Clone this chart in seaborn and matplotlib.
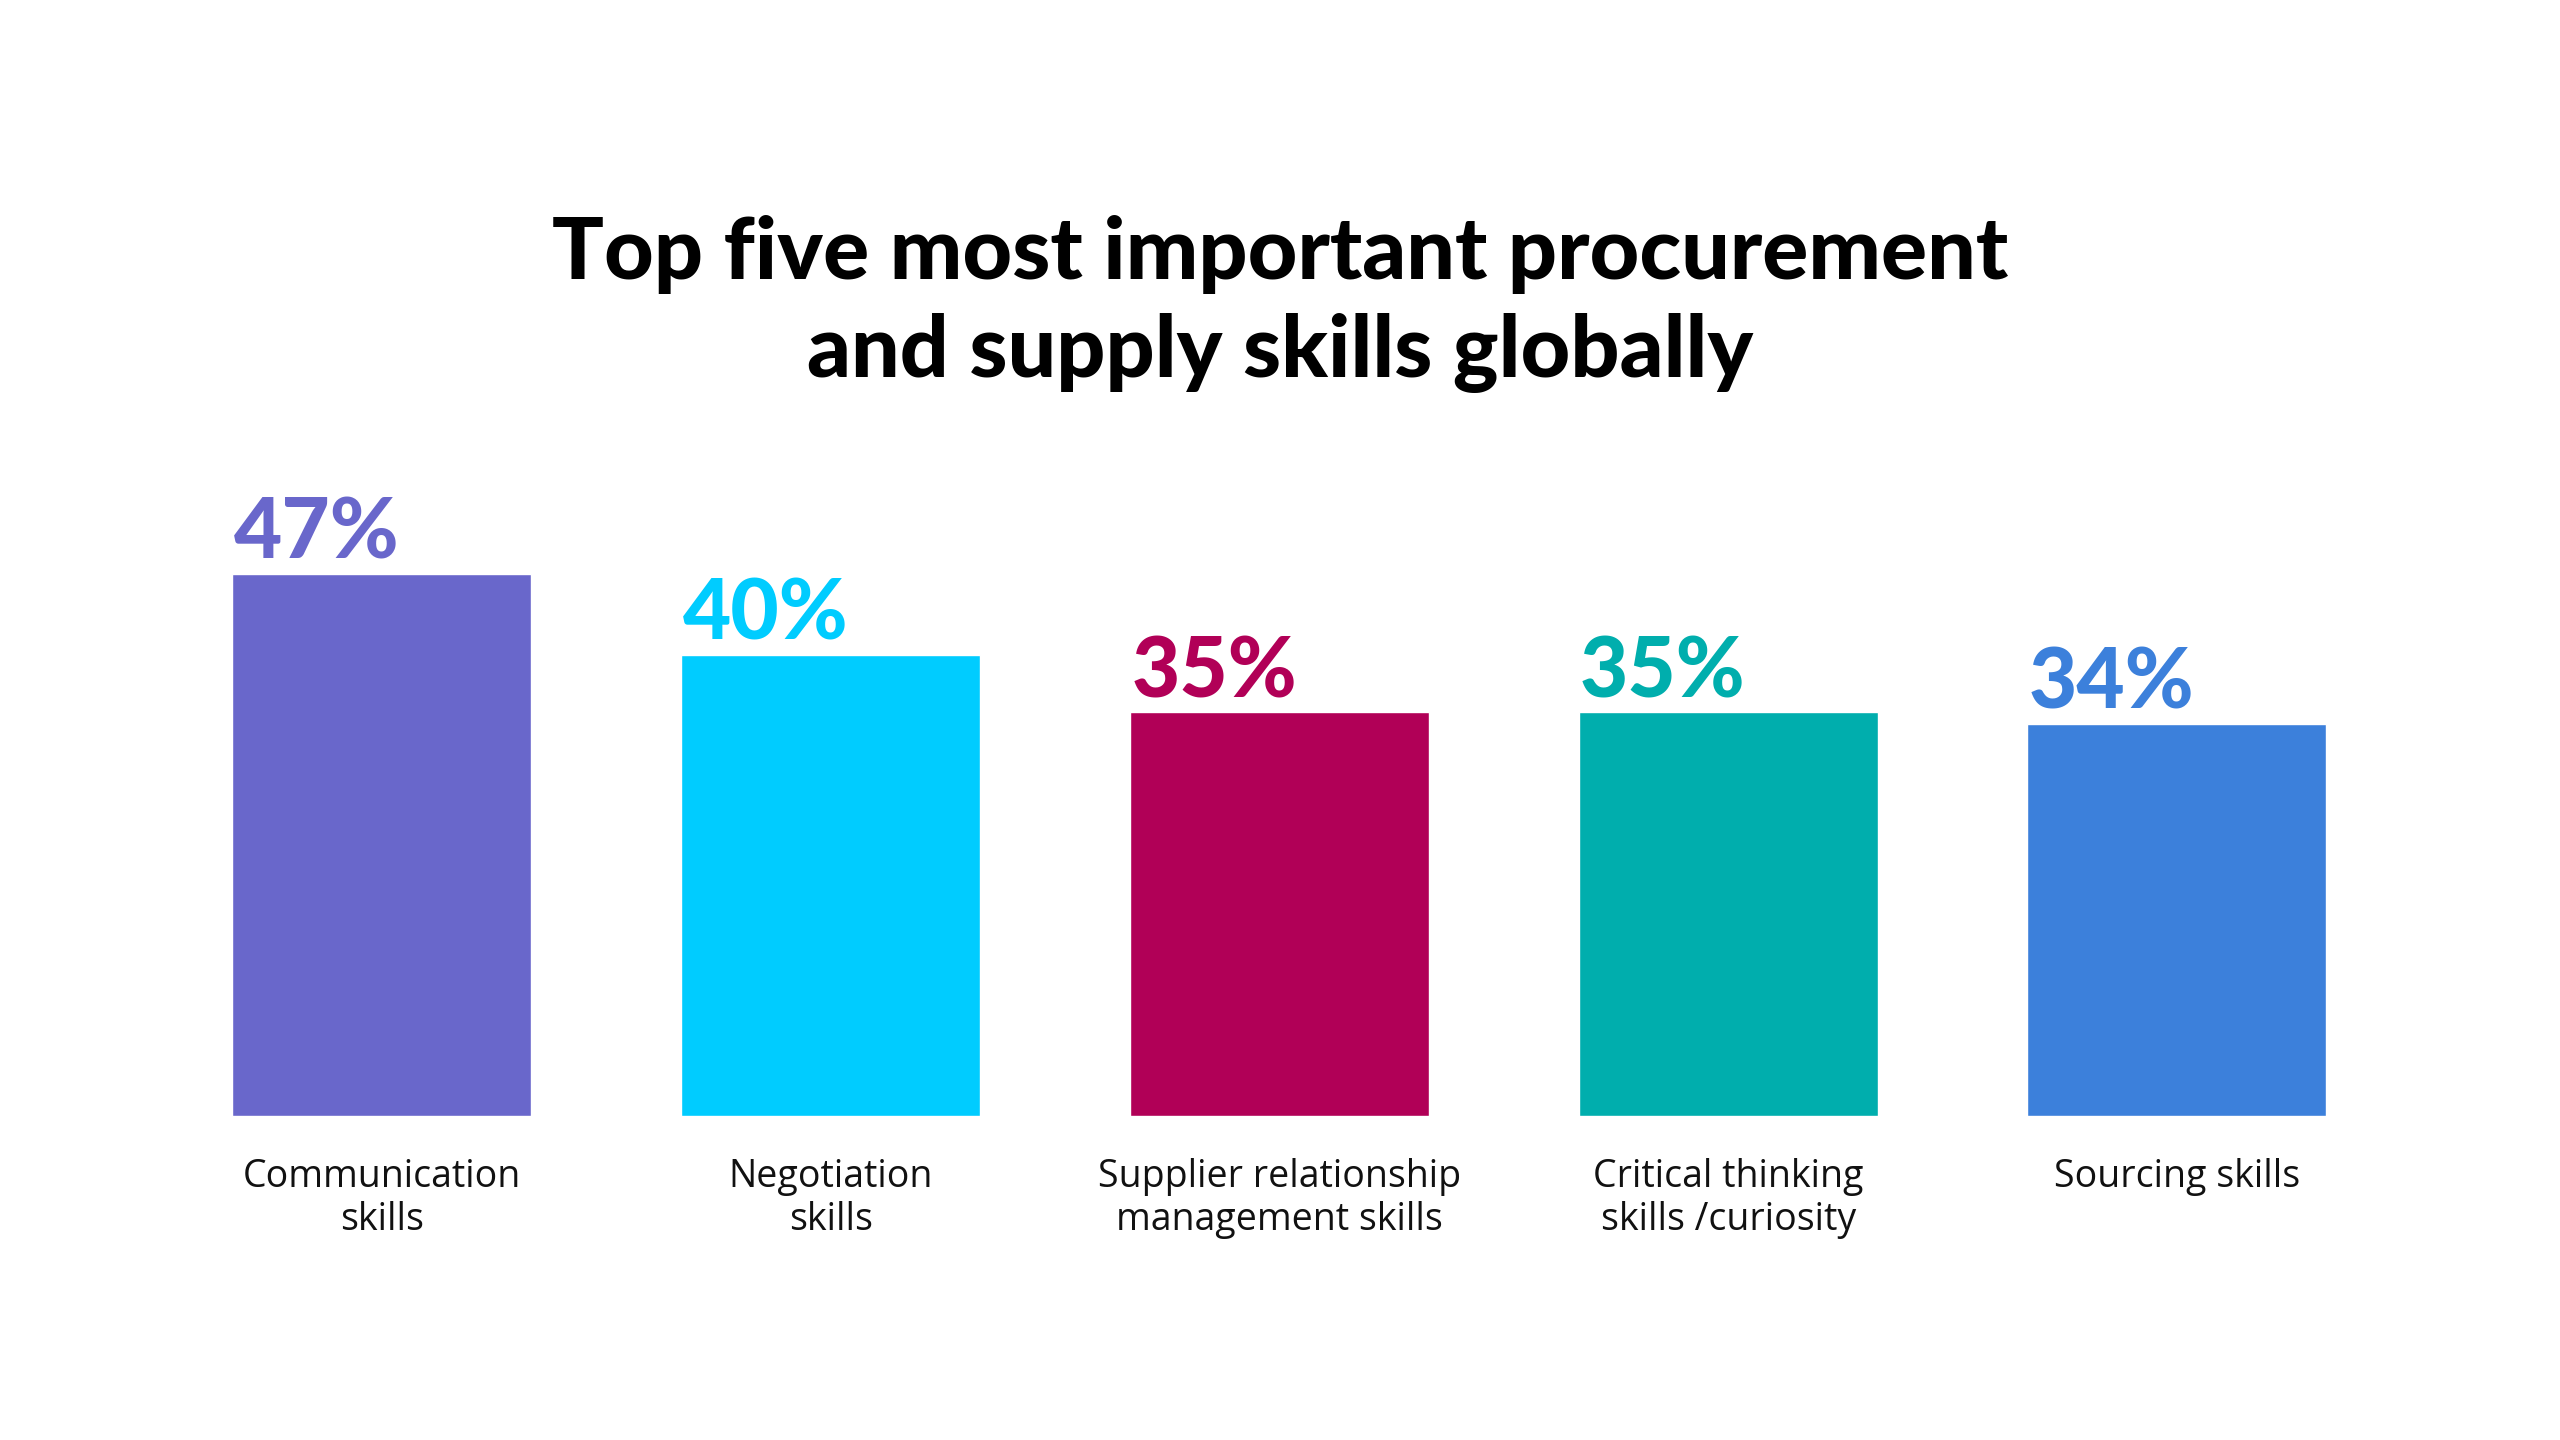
import pandas as pd
import matplotlib
matplotlib.use("Agg")
import matplotlib.pyplot as plt
import seaborn as sns

skills = ["Communication\nskills", "Negotiation\nskills", "Supplier relationship\nmanagement skills",
          "Critical thinking\nskills /curiosity", "Sourcing skills"]
share = [47, 40, 35, 35, 34]
bar_colors = ["#6967CB", "#00CCFF", "#B10057", "#00AEAD", "#3C80DB"]

df = pd.DataFrame({"skill": skills, "share": share})

sns.set_theme(style="white")
plt.rcParams['font.family'] = ['Open Sans', 'DejaVu Sans']

fig = plt.figure(figsize=(25.6, 14.4), dpi=100)
ax = fig.add_axes([0.0615, 0.225, 0.8765, 0.4004])

sns.barplot(data=df, x="skill", y="share", hue="skill", palette=bar_colors,
            legend=False, width=0.666, saturation=1, ax=ax)

ax.set_xlim(-0.5, 4.5)
ax.set_ylim(0, 50)
ax.set_xlabel("")
ax.set_ylabel("")
ax.set_yticks([])
sns.despine(ax=ax, left=True, bottom=True)
ax.tick_params(axis="x", length=0, pad=30, labelsize=27, labelcolor="#111111")
for lbl in ax.get_xticklabels():
    lbl.set_linespacing(1.2)

# percentage labels, left aligned on each bar
for patch, val, col in zip(ax.patches, share, bar_colors):
    ax.annotate(f"{val}%", xy=(patch.get_x(), patch.get_height()), xytext=(1, 11),
                textcoords="offset points", ha="left", va="baseline",
                fontsize=60, fontweight="black", color=col, family=["Lato", "DejaVu Sans"])

fig.text(0.5, 0.789, "Top five most important procurement\nand supply skills globally",
         ha="center", va="center", fontsize=62, fontweight="black", color="black",
         linespacing=1.29, family=["Lato", "DejaVu Sans"])

fig.savefig("out.png", dpi=100, facecolor="white")
